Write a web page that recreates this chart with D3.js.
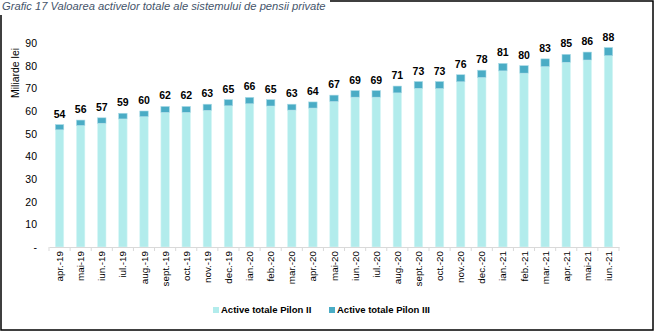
<!DOCTYPE html>
<html>
<head>
<meta charset="utf-8">
<script src="https://cdn.jsdelivr.net/npm/d3@7/dist/d3.min.js"></script>
<style>
  body { margin: 0; background: #fff; }
  svg { display: block; font-family: "Liberation Sans", Arial, sans-serif; }
</style>
</head>
<body>
<div id="grafic"></div>
<script>
// luni (apr.-19 .. iun.-21)
var luni = ["apr.-19","mai-19","iun.-19","iul.-19","aug.-19","sept.-19","oct.-19","nov.-19","dec.-19",
            "ian.-20","feb.-20","mar.-20","apr.-20","mai-20","iun.-20","iul.-20","aug.-20","sept.-20","oct.-20","nov.-20","dec.-20",
            "ian.-21","feb.-21","mar.-21","apr.-21","mai-21","iun.-21"];
// total active (mld lei), cum apar in etichete
var total = [54,56,57,59,60,62,62,63,65,66,65,63,64,67,69,69,71,73,73,76,78,81,80,83,85,86,88];
// pilon III (mld lei)
var pilon3 = [2.3,2.4,2.4,2.5,2.5,2.6,2.6,2.7,2.7,2.8,2.8,2.6,2.7,2.8,2.9,2.9,3.0,3.0,3.1,3.1,3.2,3.3,3.3,3.4,3.5,3.5,3.6];
var yTicks = [0,10,20,30,40,50,60,70,80,90];
var serii = ["Active totale Pilon II","Active totale Pilon III"];
var culori = ["#b2ecec","#4aacc5"];

var W = 656, H = 332;
var svg = d3.select("#grafic").append("svg").attr("width", W).attr("height", H);

// chenar
svg.append("rect").attr("x",1).attr("y",1).attr("width",652).attr("height",329)
  .attr("fill","none").attr("stroke","#000").attr("stroke-width",1.5);
svg.append("rect").attr("x",0).attr("y",0).attr("width",330).attr("height",15).attr("fill","#fff");
svg.append("text").attr("x",2).attr("y",10)
  .attr("font-style","italic").attr("font-size",11.2).attr("fill","#44546a")
  .text("Grafic 17 Valoarea activelor totale ale sistemului de pensii private");

var x = d3.scaleBand().domain(luni).range([49,619]).paddingInner(0.6).paddingOuter(0.3);
var y = d3.scaleLinear().domain([0,90]).range([247,43]);

var date = luni.map(function(l,i){ return {luna:l, p2: total[i]-pilon3[i], p3: pilon3[i], tot: total[i]}; });

// axa y (doar etichete)
svg.selectAll(".yt").data(yTicks).enter().append("text")
  .attr("x",37).attr("y",function(d){ return y(d)+4; })
  .attr("text-anchor","end").attr("font-size",10.5).attr("fill","#000")
  .text(function(d){ return d===0 ? "-" : d; });

svg.append("text").attr("transform","translate(18.5,73) rotate(-90)")
  .attr("text-anchor","middle").attr("font-size",10.5).attr("fill","#000").text("Miliarde lei");

// bare
var g = svg.selectAll(".bar").data(date).enter().append("g");
g.append("rect").attr("x",function(d){ return x(d.luna); }).attr("width",x.bandwidth())
  .attr("y",function(d){ return y(d.p2); }).attr("height",function(d){ return y(0)-y(d.p2); })
  .attr("fill",culori[0]).attr("stroke","#d8f6f6").attr("stroke-width",0.6);
g.append("rect").attr("x",function(d){ return x(d.luna); }).attr("width",x.bandwidth())
  .attr("y",function(d){ return y(d.p2+d.p3); }).attr("height",function(d){ return y(d.p2)-y(d.p2+d.p3); })
  .attr("fill",culori[1]).attr("stroke","#a9dbe6").attr("stroke-width",0.6);
g.append("text").attr("x",function(d){ return x(d.luna)+x.bandwidth()/2; })
  .attr("y",function(d){ return y(d.tot)-7; })
  .attr("text-anchor","middle").attr("font-size",10.5).attr("font-weight","bold").attr("fill","#000")
  .text(function(d){ return d.tot; });

// axa x
var xa = svg.append("g").attr("transform","translate(0,247)")
  .call(d3.axisBottom(x).tickSize(0).tickFormat(""));
xa.select(".domain").attr("stroke","#d9d9d9");
var step = x.step();
svg.selectAll(".xt").data(d3.range(luni.length+1)).enter().append("line")
  .attr("x1",function(i){ return 49+i*step; }).attr("x2",function(i){ return 49+i*step; })
  .attr("y1",247).attr("y2",251).attr("stroke","#d9d9d9");
svg.selectAll(".xl").data(luni).enter().append("text")
  .attr("transform",function(d){ return "translate("+(x(d)+x.bandwidth()/2+3.5)+",251) rotate(-90)"; })
  .attr("text-anchor","end").attr("font-size",9.8).attr("fill","#000").text(function(d){ return d; });

// legenda
var leg = svg.append("g").attr("transform","translate(213,313)");
var lx = [0,116];
serii.forEach(function(s,i){
  leg.append("rect").attr("x",lx[i]).attr("y",-6).attr("width",6).attr("height",6).attr("fill",culori[i]);
  leg.append("text").attr("x",lx[i]+8).attr("y",0).attr("font-size",9.5).attr("font-weight","bold")
    .attr("fill","#000").text(s);
});
</script>
</body>
</html>
